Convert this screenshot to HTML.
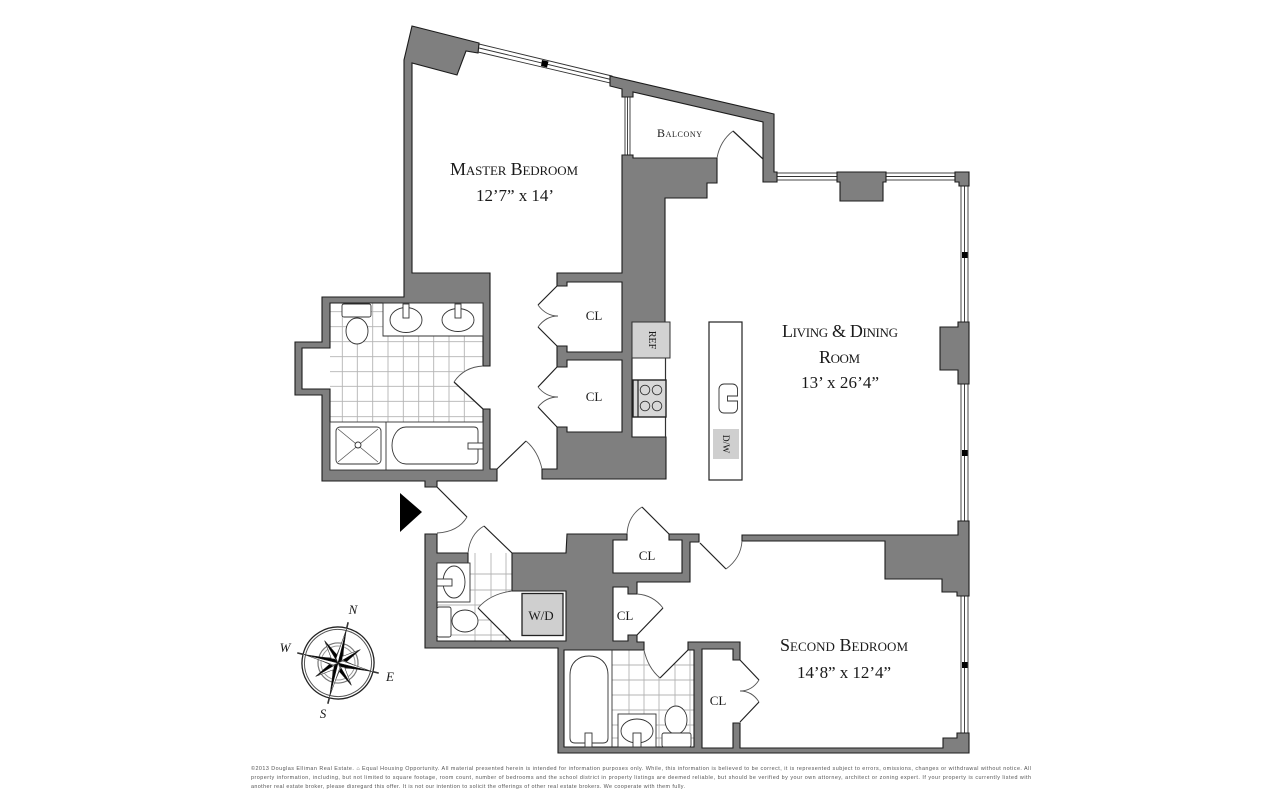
<!DOCTYPE html>
<html><head><meta charset="utf-8">
<style>
html,body{margin:0;padding:0;background:#fff;width:1280px;height:800px;overflow:hidden}
svg{display:block;filter:blur(.35px)}
text{font-family:"Liberation Serif",serif;fill:#1a1a1a}
.sc{font-variant:small-caps}
.wall{fill:#7f7f7f;stroke:#1c1c1c;stroke-width:1.1;stroke-linejoin:miter}
.fx{fill:#fff;stroke:#333;stroke-width:.9}
.door{fill:none;stroke:#222;stroke-width:1.2}
.arc{fill:none;stroke:#555;stroke-width:.9}
.tile{stroke:#b4b4b4;stroke-width:.9;fill:none}
.win{stroke:#333;stroke-width:.9;fill:#fff}
.foot{font-family:"Liberation Sans",sans-serif;font-size:5.4px;fill:#555}
</style></head><body>
<svg width="1280" height="800" viewBox="0 0 1280 800" xmlns="http://www.w3.org/2000/svg">

<!-- master bath tile -->
<g class="tile">
<path d="M342.3 303V422M357.3 303V422M372.7 303V422M388 303V422M403.3 303V422M418.7 303V422M433.7 303V422M449 303V422M464.3 303V422"/>
<path d="M330 311.7H483M330 326.7H483M330 341.7H483M330 356.7H483M330 371.7H483M330 386.3H483M330 401.3H483M330 416.7H483"/>
</g>
<polygon points="486,366 483,366 462,372 454,382 483,409 486,409" fill="#fff"/>

<!-- small bath tile -->
<g class="tile">
<path d="M475 553V641M491 553V641M506 553V641"/>
<path d="M437 574H512M437 590H512M437 605H512M437 620H512M437 635H512"/>
</g>
<polygon points="512,591 490,597 478,608 511,641 520,641 520,591" fill="#fff"/>

<!-- second bath tile -->
<g class="tile">
<path d="M629 650V747M644 650V747M659 650V747M675 650V747M690 650V747"/>
<path d="M612 665H694M612 680H694M612 695H694M612 710H694M612 725H694M612 738H694"/>
</g>
<polygon points="644,650 688,650 660,678 650,668" fill="#fff"/>

<!-- windows -->
<g class="win">
<polygon points="479,44 612,76 610,83 478,52"/>
<path d="M479 48 L611 79.5" fill="none"/>
<path d="M625 97V155M630 97V155M627.5 97V155" fill="none"/>
<rect x="777" y="173" width="60" height="7"/>
<path d="M777 176.5H837" fill="none"/>
<rect x="886" y="173" width="69" height="7"/>
<path d="M886 176.5H955" fill="none"/>
<rect x="961" y="186" width="7" height="136"/>
<path d="M964.5 186V322" fill="none"/>
<rect x="961" y="384" width="7" height="137"/>
<path d="M964.5 384V521" fill="none"/>
<rect x="961" y="596" width="7" height="137"/>
<path d="M964.5 596V733" fill="none"/>
</g>
<g fill="#000">
<polygon points="542,60 548.5,61.5 547,67.5 541,66"/>
<rect x="962" y="252" width="5.5" height="6"/>
<rect x="962" y="450" width="5.5" height="6"/>
<rect x="962" y="662" width="5.5" height="6"/>
</g>

<!-- walls -->
<polygon class="wall" points="412,26 479,43 478,53 466,51 457,75 412,63 412,273 490,273 490,366 483,366 483,303 330,303 330,348 302,348 302,389 330,389 330,470 483,470 483,409 490,409 490,469 497,469 497,481 437,481 437,487 425,487 425,481 322,481 322,395 295,395 295,342 322,342 322,297 404,297 404,60"/>
<polygon class="wall" points="622,155 633,155 633,158 717,158 717,183 707,183 707,198 665,198 665,322 632,322 632,437 666,437 666,479 542,479 542,469 557,469 557,427 567,427 567,432 622,432 622,360 567,360 567,367 557,367 557,346 567,346 567,352 622,352 622,282 567,282 567,286 557,286 557,273 622,273"/>
<polygon class="wall" points="610,76 774,114 774,172 777,172 777,182 763,182 763,122 633,92 633,97 622,97 622,89 610,86"/>
<polygon class="wall" points="837,172 886,172 886,182 883,182 883,201 840,201 840,182 837,182"/>
<polygon class="wall" points="955,172 969,172 969,186 959,186 959,182 955,182"/>
<polygon class="wall" points="958,322 969,322 969,384 958,384 958,370 940,370 940,327 958,327"/>
<polygon class="wall" points="958,521 969,521 969,596 957,596 957,592 942,592 942,579 885,579 885,541 742,541 742,535 958,535"/>
<polygon class="wall" points="425,534 437,534 437,553 468,553 468,563 437,563 437,641 566,641 566,591 512,591 512,553 566,553 567,534 627,534 627,540 613,540 613,573 682,573 682,540 669,540 669,534 699,534 699,542 690,542 690,582 637,582 637,594 628,594 628,587 613,587 613,641 628,641 628,635 637,635 637,642 644,642 644,650 564,650 564,747 694,747 694,650 688,650 688,642 740,642 740,660 733,660 733,649 702,649 702,748 733,748 733,723 740,723 740,748 943,748 943,738 957,738 957,733 969,733 969,753 558,753 558,648 425,648"/>

<!-- kitchen -->
<path d="M665.5 322V437" stroke="#333" stroke-width="1.2" fill="none"/>
<rect x="632" y="322" width="38" height="36" fill="#d2d2d2" stroke="#333" stroke-width="1"/>
<rect x="633" y="380" width="33" height="37" fill="#d8d8d8" stroke="#222" stroke-width="1.4"/>
<path d="M638 380V417" stroke="#222" stroke-width="1.2"/>
<g fill="none" stroke="#333" stroke-width=".9">
<circle cx="645" cy="390" r="4.8"/><circle cx="657" cy="390" r="4.8"/>
<circle cx="645" cy="406" r="4.8"/><circle cx="657" cy="406" r="4.8"/>
</g>

<!-- island -->
<rect x="709" y="322" width="33" height="158" fill="#fff" stroke="#222" stroke-width="1.2"/>
<rect x="719" y="384" width="18.5" height="29" rx="5" class="fx"/>
<path d="M738 396H727.5V401H738" class="fx" fill="none"/>
<rect x="713" y="429" width="26" height="30" fill="#cfcfcf"/>

<!-- master bath fixtures -->
<polygon points="383,303 483,303 483,336 383,336" class="fx"/>
<ellipse cx="406" cy="320" rx="16" ry="12.5" class="fx"/>
<ellipse cx="458" cy="320" rx="16" ry="11.5" class="fx"/>
<rect x="403" y="304" width="6" height="14" class="fx"/>
<rect x="455" y="304" width="6" height="14" class="fx"/>
<rect x="342" y="304" width="29" height="13" rx="2" class="fx"/>
<ellipse cx="357" cy="331" rx="11" ry="13" class="fx"/>
<rect x="330" y="422" width="153" height="48" class="fx"/>
<path d="M386 422V470" stroke="#333" stroke-width=".9"/>
<rect x="336" y="427" width="45" height="37" rx="4" class="fx"/>
<path d="M338 429L378 462M378 429L338 462" stroke="#555" stroke-width=".8"/>
<circle cx="358" cy="445" r="3" class="fx"/>
<path d="M406 427H474Q478 427 478 431V460Q478 464 474 464H406C397 464 392 454 392 445.5C392 437 397 427 406 427Z" class="fx"/>
<rect x="468" y="443" width="15" height="6" class="fx"/>

<!-- small bath fixtures -->
<rect x="437" y="563" width="33" height="39" class="fx"/>
<ellipse cx="454" cy="582" rx="11" ry="16" class="fx"/>
<rect x="437" y="579" width="15" height="7" class="fx"/>
<rect x="437" y="607" width="14" height="30" rx="2" class="fx"/>
<ellipse cx="465" cy="621" rx="13" ry="11" class="fx"/>
<rect x="522" y="593.5" width="41" height="42" fill="#cfcfcf" stroke="#222" stroke-width="1.3"/>

<!-- second bath fixtures -->
<path d="M612 650V747" stroke="#333" stroke-width=".9"/>
<path d="M570 675C570 662 579 656 589 656C599 656 608 662 608 675V738Q608 743 603 743H575Q570 743 570 738Z" class="fx"/>
<rect x="585" y="733" width="7" height="14" class="fx"/>
<rect x="618" y="714" width="38" height="33" class="fx"/>
<ellipse cx="637" cy="731" rx="16" ry="12" class="fx"/>
<rect x="633" y="733" width="8" height="14" class="fx"/>
<ellipse cx="676" cy="720" rx="11" ry="14" class="fx"/>
<rect x="662" y="733" width="29" height="14" rx="2" class="fx"/>

<!-- doors -->
<g class="door">
<path d="M454 382L483 409"/>
<path d="M497 469L526 441"/>
<path d="M437 487L467 517"/>
<path d="M763 159L733 131"/>
<path d="M484 526L512 553"/>
<path d="M478 608L511 641"/>
<path d="M642 507L669 534"/>
<path d="M663 608L637 635"/>
<path d="M688 650L660 678"/>
<path d="M700 543L726 569"/>
<path d="M557 286L538 305M538 327L557 346"/>
<path d="M557 367L538 387M538 407L557 427"/>
<path d="M740 660L759 680M759 702L740 722"/>
</g>
<g class="arc">
<path d="M483 366Q464 367 454 382"/>
<path d="M526 441Q538 451 542 469"/>
<path d="M467 517Q458 532 437 533"/>
<path d="M733 131Q720 141 717 158"/>
<path d="M484 526Q470 534 468 553"/>
<path d="M512 591Q490 594 478 608"/>
<path d="M642 507Q628 516 627 534"/>
<path d="M637 594Q653 595 663 608"/>
<path d="M644 650Q648 668 660 678"/>
<path d="M726 569Q741 558 742 541"/>
<path d="M538 305Q546 316 558 316Q546 316 538 327"/>
<path d="M538 387Q546 397 558 397Q546 397 538 407"/>
<path d="M759 680Q752 691 740 691Q752 691 759 702"/>
</g>

<!-- entry arrow -->
<polygon points="400,493 422,512 400,532" fill="#000"/>

<!-- labels -->
<text class="sc" x="450" y="175" font-size="18" textLength="128">Master Bedroom</text>
<text x="476" y="201" font-size="17" textLength="78">12’7” x 14’</text>
<text class="sc" x="657" y="137" font-size="12" textLength="45">Balcony</text>
<text class="sc" x="782" y="337" font-size="18" textLength="116">Living &amp; Dining</text>
<text class="sc" x="819" y="363" font-size="18" textLength="41">Room</text>
<text x="801" y="388" font-size="17" textLength="78">13’ x 26’4”</text>
<text class="sc" x="780" y="651" font-size="18" textLength="128">Second Bedroom</text>
<text x="797" y="678" font-size="17" textLength="94">14’8” x 12’4”</text>
<g font-size="13" text-anchor="middle">
<text x="594" y="320">CL</text>
<text x="594" y="401">CL</text>
<text x="647" y="560">CL</text>
<text x="625" y="620">CL</text>
<text x="718" y="705">CL</text>
</g>
<text x="541" y="620" font-size="13" text-anchor="middle">W/D</text>
<text transform="translate(649,340) rotate(90)" font-size="10" text-anchor="middle" fill="#333">REF</text>
<text transform="translate(723,444) rotate(90)" font-size="9.5" text-anchor="middle" fill="#333">D/W</text>

<!-- compass -->
<g transform="translate(338,663) rotate(14)">
<circle r="36" fill="none" stroke="#222" stroke-width="1.3"/>
<circle r="33.5" fill="none" stroke="#555" stroke-width="1"/>
<circle r="20" fill="none" stroke="#777" stroke-width="1.2"/>
<circle r="17" fill="none" stroke="#999" stroke-width="1"/>
<path d="M0 -36V-42M0 36V42M-36 0H-42M36 0H42" stroke="#333" stroke-width="1.6"/>
<g stroke="#222" stroke-width=".5"><polygon points="0,-26 -4,-4 0,0" fill="#fff"/><polygon points="0,-26 4,-4 0,0" fill="#000"/></g>
<g stroke="#222" stroke-width=".5" transform="rotate(45)"><polygon points="0,-26 -4,-4 0,0" fill="#fff"/><polygon points="0,-26 4,-4 0,0" fill="#000"/></g>
<g stroke="#222" stroke-width=".5" transform="rotate(90)"><polygon points="0,-26 -4,-4 0,0" fill="#fff"/><polygon points="0,-26 4,-4 0,0" fill="#000"/></g>
<g stroke="#222" stroke-width=".5" transform="rotate(135)"><polygon points="0,-26 -4,-4 0,0" fill="#fff"/><polygon points="0,-26 4,-4 0,0" fill="#000"/></g>
<g stroke="#222" stroke-width=".5" transform="rotate(180)"><polygon points="0,-26 -4,-4 0,0" fill="#fff"/><polygon points="0,-26 4,-4 0,0" fill="#000"/></g>
<g stroke="#222" stroke-width=".5" transform="rotate(225)"><polygon points="0,-26 -4,-4 0,0" fill="#fff"/><polygon points="0,-26 4,-4 0,0" fill="#000"/></g>
<g stroke="#222" stroke-width=".5" transform="rotate(270)"><polygon points="0,-26 -4,-4 0,0" fill="#fff"/><polygon points="0,-26 4,-4 0,0" fill="#000"/></g>
<g stroke="#222" stroke-width=".5" transform="rotate(315)"><polygon points="0,-26 -4,-4 0,0" fill="#fff"/><polygon points="0,-26 4,-4 0,0" fill="#000"/></g>
<g stroke="#222" stroke-width=".5"><polygon points="0,-35 -3,-4 0,0" fill="#fff"/><polygon points="0,-35 3,-4 0,0" fill="#000"/></g>
<g stroke="#222" stroke-width=".5" transform="rotate(90)"><polygon points="0,-35 -3,-4 0,0" fill="#fff"/><polygon points="0,-35 3,-4 0,0" fill="#000"/></g>
<g stroke="#222" stroke-width=".5" transform="rotate(180)"><polygon points="0,-35 -3,-4 0,0" fill="#fff"/><polygon points="0,-35 3,-4 0,0" fill="#000"/></g>
<g stroke="#222" stroke-width=".5" transform="rotate(270)"><polygon points="0,-35 -3,-4 0,0" fill="#fff"/><polygon points="0,-35 3,-4 0,0" fill="#000"/></g>
</g>
<g font-size="13" font-style="italic" text-anchor="middle">
<text x="353" y="614">N</text>
<text x="285" y="652">W</text>
<text x="390" y="681">E</text>
<text x="323" y="718">S</text>
</g>

<!-- footer -->
<text class="foot" x="251" y="770" textLength="780">©2013 Douglas Elliman Real Estate.    ⌂ Equal Housing Opportunity. All material presented herein is intended for information purposes only. While, this information is believed to be correct, it is represented subject to errors, omissions, changes or withdrawal without notice. All</text>
<text class="foot" x="251" y="779" textLength="780">property information, including, but not limited to square footage, room count, number of bedrooms and the school district  in property listings are deemed reliable, but should be verified by your own attorney, architect or zoning expert. If your property is currently listed with</text>
<text class="foot" x="251" y="788" textLength="434">another real estate broker, please disregard this offer. It is not our intention to solicit the offerings of other real estate brokers. We cooperate with them fully.</text>
</svg>
</body></html>
